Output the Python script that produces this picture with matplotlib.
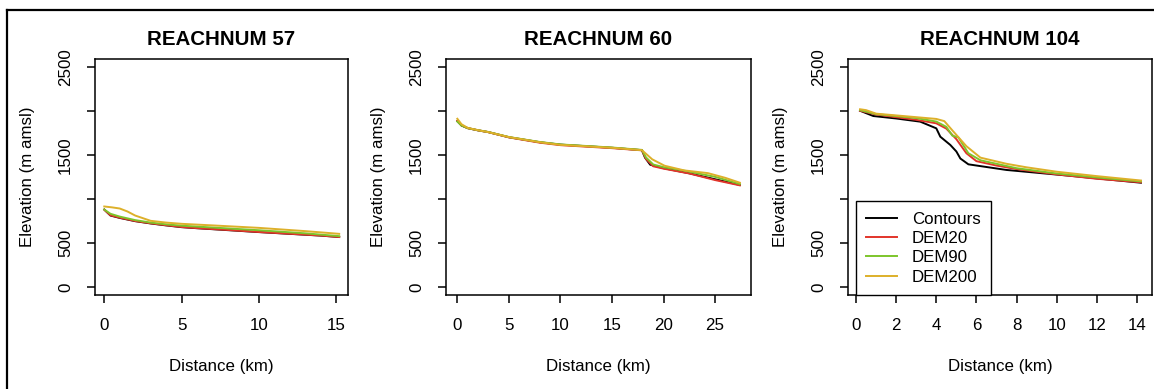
import numpy as np
import matplotlib.pyplot as plt
from matplotlib.lines import Line2D

plt.rcParams['font.family'] = ['Liberation Sans', 'DejaVu Sans']

# ---- data ----
series_names = ['Contours', 'DEM20', 'DEM90', 'DEM200']
series_colors = ['black', '#E2342A', '#7DC52B', '#DDB02A']

# REACHNUM 57
r57_contours_x = [0, 0.4, 1, 2, 3, 4, 5, 6, 8, 10, 12, 14, 15.2]
r57_contours_y = [880, 812, 785, 748, 722, 700, 680, 668, 646, 624, 604, 584, 568]
r57_dem20_x = [0, 0.4, 1, 2, 3, 4, 5, 6, 8, 10, 12, 14, 15.2]
r57_dem20_y = [878, 815, 788, 750, 724, 702, 682, 669, 648, 625, 605, 585, 568]
r57_dem90_x = [0, 0.4, 1, 2, 3, 4, 5, 7, 10, 13, 15.2]
r57_dem90_y = [880, 832, 800, 760, 732, 712, 697, 676, 645, 610, 578]
r57_dem200_x = [0, 0.5, 1, 1.5, 2, 3, 4, 5, 7, 10, 13, 15.2]
r57_dem200_y = [915, 905, 892, 858, 812, 752, 732, 718, 700, 672, 635, 604]

# REACHNUM 60
r60_contours_x = [0, 0.4, 1, 2, 3, 5, 8, 10, 15, 17.9, 18.2, 18.7, 20, 22.5, 25, 27.4]
r60_contours_y = [1885, 1835, 1805, 1780, 1760, 1702, 1645, 1618, 1582, 1555, 1470, 1390, 1350, 1292, 1224, 1160]
r60_dem20_x = [0, 0.4, 1, 2, 3, 5, 8, 10, 15, 17.9, 18.3, 19, 20, 22.5, 25, 27.4]
r60_dem20_y = [1890, 1838, 1806, 1781, 1760, 1700, 1640, 1612, 1578, 1553, 1455, 1372, 1345, 1290, 1215, 1155]
r60_dem90_x = [0, 0.4, 1, 2, 3, 5, 8, 10, 15, 17.9, 18.3, 19, 20, 22, 25, 27.4]
r60_dem90_y = [1880, 1836, 1806, 1782, 1762, 1704, 1648, 1620, 1585, 1558, 1472, 1392, 1362, 1322, 1252, 1170]
r60_dem200_x = [0, 0.4, 1, 2, 3, 5, 8, 10, 15, 17.9, 18.9, 20.1, 22, 24.3, 26, 27.4]
r60_dem200_y = [1912, 1850, 1808, 1782, 1760, 1704, 1645, 1615, 1582, 1555, 1451, 1378, 1325, 1294, 1240, 1185]

# REACHNUM 104
r104_contours_x = [0.2, 0.86, 2, 3.2, 4.0, 4.2, 4.7, 5.0, 5.2, 5.6, 7.5, 10.8, 14.2]
r104_contours_y = [2003, 1943, 1915, 1879, 1803, 1708, 1614, 1540, 1460, 1394, 1330, 1261, 1185]
r104_dem20_x = [0.2, 1, 3, 4, 4.5, 5, 5.5, 6, 7, 8, 10, 12, 14.2]
r104_dem20_y = [2003, 1960, 1900, 1860, 1800, 1680, 1520, 1430, 1380, 1340, 1280, 1230, 1190]
r104_dem90_x = [0.2, 1, 3, 4, 4.5, 4.8, 5.1, 5.6, 6.2, 7, 8, 10, 12, 14.2]
r104_dem90_y = [2010, 1965, 1920, 1880, 1820, 1720, 1700, 1520, 1440, 1400, 1350, 1290, 1245, 1200]
r104_dem200_x = [0.2, 0.5, 1, 3, 4, 4.4, 4.8, 5.5, 6.2, 7.5, 8.5, 10, 12, 14.2]
r104_dem200_y = [2020, 2010, 1970, 1930, 1910, 1885, 1780, 1600, 1470, 1400, 1360, 1310, 1260, 1210]

panels = [
    ('REACHNUM 57', [(r57_contours_x, r57_contours_y), (r57_dem20_x, r57_dem20_y),
                     (r57_dem90_x, r57_dem90_y), (r57_dem200_x, r57_dem200_y)],
     [0, 5, 10, 15], (-0.60, 15.77)),
    ('REACHNUM 60', [(r60_contours_x, r60_contours_y), (r60_dem20_x, r60_dem20_y),
                     (r60_dem90_x, r60_dem90_y), (r60_dem200_x, r60_dem200_y)],
     [0, 5, 10, 15, 20, 25], (-1.10, 28.48)),
    ('REACHNUM 104', [(r104_contours_x, r104_contours_y), (r104_dem20_x, r104_dem20_y),
                      (r104_dem90_x, r104_dem90_y), (r104_dem200_x, r104_dem200_y)],
     [0, 2, 4, 6, 8, 10, 12, 14], (-0.40, 14.75)),
]

y_ticks = [0, 500, 1000, 1500, 2000, 2500]
y_ticklabels = ['0', '500', '', '1500', '', '2500']

W, H = 1154, 389
fig = plt.figure(figsize=(W / 100, H / 100), dpi=100)

# axes boxes in pixels: (left, right)
boxes = [(95, 348), (446, 751), (848, 1152)]
top_px, bot_px = 59, 295

for i, (title, lines, xticks, xlim) in enumerate(panels):
    l, r = boxes[i]
    ax = fig.add_axes([l / W, 1 - bot_px / H, (r - l) / W, (bot_px - top_px) / H])
    for (x, y), c, name in zip(lines, series_colors, series_names):
        ax.plot(x, y, color=c, lw=1.4, label=name)
    ax.set_xlim(*xlim)
    ax.set_ylim(-91, 2591)
    ax.set_xticks(xticks)
    ax.set_yticks(y_ticks)
    ax.set_yticklabels(y_ticklabels, rotation=90, va='center')
    ax.tick_params(direction='out', length=5.8, width=1.1, labelsize=12.2)
    ax.tick_params(axis='x', pad=11)
    ax.tick_params(axis='y', pad=10)
    for s in ax.spines.values():
        s.set_linewidth(1.1)
    ax.set_title(title, fontsize=14.8, fontweight='bold', pad=10)
    ax.set_xlabel('Distance (km)', fontsize=12.2)
    ax.set_ylabel('Elevation (m amsl)', fontsize=12.2)
    ax.xaxis.set_label_coords(0.5, -64 / (bot_px - top_px))
    ax.yaxis.set_label_coords(-60 / (r - l), 0.5)
    if i == 2:
        leg = ax.legend(loc='lower left', bbox_to_anchor=(8 / (r - l), 0.0),
                        fontsize=12.2, fancybox=False, edgecolor='black',
                        framealpha=1, handlelength=1.8, handletextpad=0.9,
                        labelspacing=0.26, borderpad=0.6, borderaxespad=0)
        leg.get_frame().set_linewidth(1.0)

# outer frame (top and left edges visible)
fig.add_artist(Line2D([7 / W, 1], [1 - 10 / H, 1 - 10 / H], color='black', lw=1.6))
fig.add_artist(Line2D([7 / W, 7 / W], [0, 1 - 10 / H], color='black', lw=1.6))

fig.savefig('out.png', dpi=100)
